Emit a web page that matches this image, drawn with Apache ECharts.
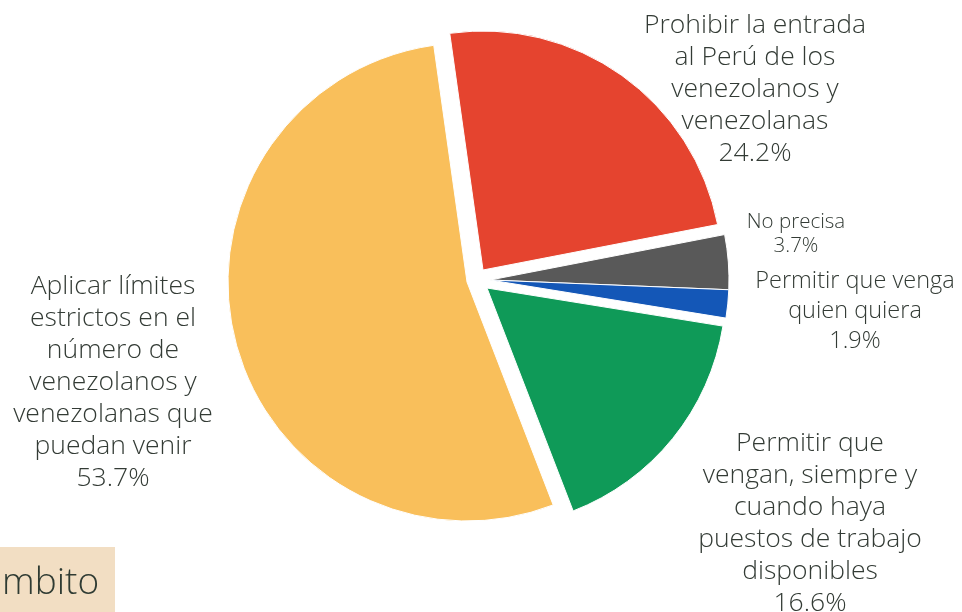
<!DOCTYPE html>
<html>
<head>
<meta charset="utf-8">
<script src="https://cdn.jsdelivr.net/npm/echarts@6/dist/echarts.min.js"></script>
<style>
  html, body { margin: 0; padding: 0; background: #fff; }
  #main { width: 962px; height: 612px; }
</style>
</head>
<body>
<div id="main"></div>
<script>
// categorias, en el orden de las agujas del reloj desde arriba
var categorias = [
  "Prohibir la entrada\nal Perú de los\nvenezolanos y\nvenezolanas",
  "No precisa",
  "Permitir que venga\nquien quiera",
  "Permitir que\nvengan, siempre y\ncuando haya\npuestos de trabajo\ndisponibles",
  "Aplicar límites\nestrictos en el\nnúmero de\nvenezolanos y\nvenezolanas que\npuedan venir"
];
var valores = [24.2, 3.7, 1.9, 16.6, 53.7];
var colores = ["#E5442F", "#595959", "#1457B7", "#0F9A58", "#F9BF5B"];

// cada porción va separada (explode) con su propio centro
var centros = [[483, 270], [490, 280], [490, 280], [487, 288], [467, 282]];
// posición de las etiquetas
var etiquetas = [
  { x: 755, y: 89, size: 26.5, lh: 32 },
  { x: 796, y: 234, size: 20.5, lh: 24 },
  { x: 855, y: 311, size: 23.5, lh: 30 },
  { x: 810, y: 523, size: 26.5, lh: 32 },
  { x: 113, y: 382, size: 26.5, lh: 32 }
];

var fuente = "'Open Sans', Lato, sans-serif";
var colorTexto = "#333b35";

var series = valores.map(function (v, i) {
  return {
    type: "pie",
    silent: true,
    center: centros[i],
    radius: 239,
    startAngle: 98,
    clockwise: true,
    avoidLabelOverlap: false,
    labelLine: { show: false },
    labelLayout: function () {
      return { x: etiquetas[i].x, y: etiquetas[i].y, align: "center", verticalAlign: "middle" };
    },
    data: valores.map(function (val, j) {
      var visible = j === i;
      return {
        name: categorias[j],
        value: val,
        itemStyle: {
          color: visible ? colores[j] : "transparent",
          borderColor: visible ? "#fff" : "transparent",
          borderWidth: visible ? 1 : 0
        },
        label: {
          show: visible,
          formatter: "{b}\n{c}%",
          color: colorTexto,
          fontFamily: fuente,
          fontWeight: 300,
          fontSize: etiquetas[j].size,
          lineHeight: etiquetas[j].lh,
          align: "center"
        }
      };
    })
  };
});

var myChart = echarts.init(document.getElementById("main"));
myChart.setOption({
  animation: false,
  backgroundColor: "#fff",
  graphic: [
    {
      type: "rect",
      shape: { x: 0, y: 547, width: 115, height: 65 },
      style: { fill: "#F2DEC3" }
    },
    {
      type: "text",
      x: 2,
      y: 583,
      style: {
        text: "mbito",
        fill: "#2f3b33",
        font: "300 37px " + fuente,
        verticalAlign: "middle"
      }
    }
  ],
  series: series
});
</script>
</body>
</html>
